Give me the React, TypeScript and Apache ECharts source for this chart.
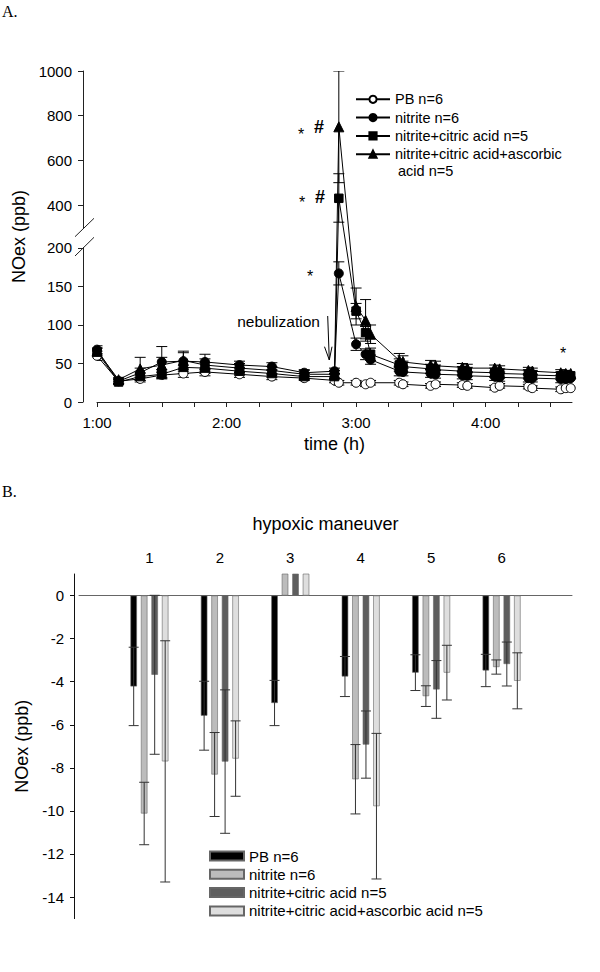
import React, { useEffect, useRef } from 'react';
import * as echarts from 'echarts';

const FONT = 'Liberation Sans, Arial, Helvetica, sans-serif';

// ---------- Panel A data (time in minutes, NOex in ppb) ----------
const timeMin = [60, 70, 80, 90, 100, 110, 126, 141, 156, 170, 172, 180, 184.4, 186.7, 200, 201.7, 214.5, 216.8, 229.2, 231.5, 244.2, 246.5, 259.8, 261.6, 274.8, 277.1, 279.4];

const pbValues = [60, 27, 30, 35, 37, 39, 36, 33, 31, 28, 25, 25, 23, 25, 25, 23, 21, 23, 22, 21, 18.6, 21, 20, 18, 16.5, 18, 18];
const pbErr = [6, 3, 4, 4, 5, 5, 4, 4, 3, 3, 3, 3, 3, 3, 3, 3, 3, 3, 3, 3, 3, 3, 3, 3, 3, 3, 3];

const nitriteValues = [68, 27, 38, 52, 53, 52, 48, 46, 38, 40, 167, 75, 62, 55, 40, 39, 37, 36, 35, 34, 33, 32, 31, 31, 30, 30, 31];
const nitriteErr = [5, 3, 6, 20, 13, 10, 5, 5, 4, 4, 15, 8, 7, 6, 6, 5, 5, 5, 5, 5, 5, 5, 5, 5, 5, 5, 5];

const citricValues = [65, 26, 33, 36, 45, 44, 40, 37, 33, 33, 430, 118, 90, 62, 48, 46, 43, 42, 40, 39, 38, 37, 36, 35, 34, 33, 34];
const citricErr = [5, 3, 5, 6, 8, 7, 5, 5, 4, 4, 110, 10, 8, 8, 8, 7, 6, 6, 6, 6, 6, 6, 6, 6, 5, 5, 5];

const ascorbicValues = [66, 29, 43, 48, 54, 48, 44, 41, 36, 36, 750, 124, 106, 88, 54, 52, 48, 47, 45, 44, 44, 43, 41, 40, 38, 37, 37];
const ascorbicErr = [4, 3, 15, 10, 10, 8, 6, 5, 5, 5, 250, 24, 27, 12, 9, 8, 6, 6, 5, 5, 4, 4, 4, 4, 4, 4, 4];

const namesA = ['PB n=6', 'nitrite n=6', 'nitrite+citric acid n=5', 'nitrite+citric acid+ascorbic acid n=5'];
const yTicksA = [0, 50, 100, 150, 200, 400, 600, 800, 1000];
const xTicksA = [60, 75, 90, 105, 120, 135, 150, 165, 180, 195, 210, 225, 240, 255, 270];
const xLabelsA = [60, 120, 180, 240];

// ---------- Panel B data ----------
const maneuvers = ['1', '2', '3', '4', '5', '6'];
const pbBar = [-4.22, -5.58, -4.99, -3.76, -3.58, -3.48];
const pbBarErr = [1.82, 1.6, 1.05, 0.93, 0.83, 0.75];
const nitriteBar = [-10.12, -8.31, 2.5, -8.53, -4.67, -3.32];
const nitriteBarErr = [1.45, 1.95, null, 1.61, 0.48, 0.33];
const citricBar = [-3.68, -7.71, 2.5, -6.92, -4.36, -3.18];
const citricBarErr = [3.69, 3.33, null, 1.56, 1.34, 1.02];
const ascorbicBar = [-7.7, -7.57, 2.5, -9.78, -3.58, -3.96];
const ascorbicBarErr = [5.6, 1.75, null, 3.38, 1.27, 1.3];
const namesB = ['PB n=6', 'nitrite n=6', 'nitrite+citric acid n=5', 'nitrite+citric acid+ascorbic acid n=5'];
const yTicksB = [0, -2, -4, -6, -8, -10, -12, -14];

// ---------- broken-axis mapping for panel A ----------
const BREAK_LO = 200;
const BREAK_HI = 400;
const GAP_D = 55.8;
const UPPER_K = 0.29;
function toD(v: number): number {
  if (v <= BREAK_LO) return v;
  if (v >= BREAK_HI) return BREAK_LO + GAP_D + (v - BREAK_HI) * UPPER_K;
  return BREAK_LO + ((v - BREAK_LO) / (BREAK_HI - BREAK_LO)) * GAP_D;
}
function fromD(d: number): number {
  if (d <= BREAK_LO) return d;
  if (d >= BREAK_LO + GAP_D) return BREAK_HI + (d - BREAK_LO - GAP_D) / UPPER_K;
  return BREAK_LO + ((d - BREAK_LO) / GAP_D) * (BREAK_HI - BREAK_LO);
}

const BAR_W = 6.5;
const BAR_GAP = 0.615;

export default function App() {
  const ref = useRef<HTMLDivElement>(null);

  useEffect(() => {
    document.body.style.margin = '0';
    if (!ref.current) return;
    const chart = echarts.init(ref.current, undefined, { renderer: 'svg' });

    const lineDefs = [
      { name: namesA[0], v: pbValues, e: pbErr, symbol: 'circle', size: 9, fill: '#ffffff' },
      { name: namesA[1], v: nitriteValues, e: nitriteErr, symbol: 'circle', size: 9, fill: '#000000' },
      { name: namesA[2], v: citricValues, e: citricErr, symbol: 'rect', size: 8.5, fill: '#000000' },
      { name: namesA[3], v: ascorbicValues, e: ascorbicErr, symbol: 'triangle', size: 10, fill: '#000000' },
    ];

    const errRenderTop = (params: any, api: any) => {
      const x = api.value(0);
      const p1 = api.coord([x, api.value(1)]);
      const p2 = api.coord([x, api.value(2)]);
      const w = 5.5;
      const st = { stroke: '#000', lineWidth: 1 };
      return {
        type: 'group',
        children: [
          { type: 'line', shape: { x1: p1[0], y1: p1[1], x2: p2[0], y2: p2[1] }, style: st },
          { type: 'line', shape: { x1: p1[0] - w, y1: p1[1], x2: p1[0] + w, y2: p1[1] }, style: st },
          { type: 'line', shape: { x1: p2[0] - w, y1: p2[1], x2: p2[0] + w, y2: p2[1] }, style: st },
        ],
      };
    };

    const seriesA: any[] = [];
    lineDefs.forEach((d) => {
      seriesA.push({
        type: 'custom',
        xAxisIndex: 0,
        yAxisIndex: 0,
        z: 2,
        clip: true,
        silent: true,
        encode: { x: 0, y: [1, 2] },
        data: timeMin.map((t, i) => [t, toD(d.v[i] + d.e[i]), toD(Math.max(0, d.v[i] - d.e[i]))]),
        renderItem: errRenderTop,
      });
    });
    lineDefs.forEach((d) => {
      seriesA.push({
        type: 'line',
        name: d.name,
        xAxisIndex: 0,
        yAxisIndex: 0,
        z: 3,
        data: timeMin.map((t, i) => [t, toD(d.v[i])]),
        symbol: d.symbol,
        symbolSize: d.size,
        showAllSymbol: true,
        lineStyle: { color: '#000', width: 1 },
        itemStyle: { color: d.fill, borderColor: '#000', borderWidth: 1 },
      });
    });

    const barDefs = [
      { name: 'bar:' + namesB[0], v: pbBar, e: pbBarErr, color: '#000000' },
      { name: 'bar:' + namesB[1], v: nitriteBar, e: nitriteBarErr, color: '#bcbcbc' },
      { name: 'bar:' + namesB[2], v: citricBar, e: citricBarErr, color: '#5e5e5e' },
      { name: 'bar:' + namesB[3], v: ascorbicBar, e: ascorbicBarErr, color: '#dedede' },
    ];
    const pitch = BAR_W * (1 + BAR_GAP);

    const seriesB: any[] = [];
    barDefs.forEach((d) => {
      seriesB.push({
        type: 'bar',
        name: d.name,
        xAxisIndex: 1,
        yAxisIndex: 1,
        barWidth: BAR_W,
        barGap: BAR_GAP * 100 + '%',
        clip: true,
        data: [null, ...d.v, null],
        itemStyle: { color: d.color, borderColor: '#666', borderWidth: 0.6 },
      });
    });
    barDefs.forEach((d, k) => {
      const offset = (k - 1.5) * pitch;
      const items: any[] = [];
      d.v.forEach((v, i) => {
        const e = d.e[i];
        if (e != null) items.push([i + 1, v + e, v - e]);
      });
      seriesB.push({
        type: 'custom',
        xAxisIndex: 1,
        yAxisIndex: 1,
        z: 4,
        clip: true,
        silent: true,
        encode: { x: 0, y: [1, 2] },
        data: items,
        renderItem: (params: any, api: any) => {
          const x = api.value(0);
          const p1 = api.coord([x, api.value(1)]);
          const p2 = api.coord([x, api.value(2)]);
          const cx = p1[0] + offset;
          const w = 5;
          const st = { stroke: '#333', lineWidth: 1 };
          return {
            type: 'group',
            children: [
              { type: 'line', shape: { x1: cx, y1: p1[1], x2: cx, y2: p2[1] }, style: st },
              { type: 'line', shape: { x1: cx - w, y1: p1[1], x2: cx + w, y2: p1[1] }, style: st },
              { type: 'line', shape: { x1: cx - w, y1: p2[1], x2: cx + w, y2: p2[1] }, style: st },
            ],
          };
        },
      });
    });

    const txt = (text: string, x: number, y: number, size: number, opts: any = {}) => ({
      type: 'text',
      x,
      y,
      z: 110,
      silent: true,
      style: {
        text,
        fill: '#000',
        fontSize: size,
        fontFamily: opts.family || FONT,
        fontWeight: opts.weight || 'normal',
        align: opts.align || 'center',
        verticalAlign: 'middle',
        textAlign: opts.align || 'center',
        textVerticalAlign: 'middle',
      },
    });

    const option: any = {
      animation: false,
      backgroundColor: '#ffffff',
      textStyle: { fontFamily: FONT },
      grid: [
        { left: 97, right: 28, top: 71, height: 331 },
        { left: 79, right: 28, top: 574, height: 344.6 },
      ],
      xAxis: [
        {
          type: 'value',
          gridIndex: 0,
          min: 60,
          max: 280,
          name: 'time (h)',
          nameLocation: 'middle',
          nameGap: 33,
          nameTextStyle: { fontSize: 18, color: '#000', fontFamily: FONT },
          axisLine: { show: true, onZero: false, lineStyle: { color: '#222', width: 1 } },
          axisTick: { show: true, length: 5, customValues: xTicksA, lineStyle: { color: '#222' } },
          axisLabel: {
            customValues: xLabelsA,
            margin: 13,
            fontSize: 15,
            color: '#000',
            fontFamily: FONT,
            formatter: (v: number) => Math.floor(v / 60) + ':00',
          },
          splitLine: { show: false },
        },
        {
          type: 'category',
          gridIndex: 1,
          position: 'top',
          boundaryGap: false,
          data: ['', ...maneuvers, ''],
          name: 'hypoxic maneuver',
          nameLocation: 'middle',
          nameGap: 41,
          nameTextStyle: { fontSize: 18, color: '#000', fontFamily: FONT },
          axisLine: { show: true, onZero: true, lineStyle: { color: '#666', width: 1 } },
          axisTick: { show: false },
          axisLabel: { interval: 0, margin: 9, fontSize: 15, color: '#000', fontFamily: FONT },
          splitLine: { show: false },
        },
      ],
      yAxis: [
        {
          type: 'value',
          gridIndex: 0,
          min: 0,
          max: toD(1000),
          offset: 14,
          name: 'NOex (ppb)',
          nameLocation: 'middle',
          nameGap: 54,
          nameTextStyle: { fontSize: 18, color: '#000', fontFamily: FONT },
          axisLine: { show: true, onZero: false, lineStyle: { color: '#222', width: 1 } },
          axisTick: { show: true, length: 5, customValues: yTicksA.map(toD), lineStyle: { color: '#222' } },
          axisLabel: {
            customValues: yTicksA.map(toD),
            margin: 11,
            fontSize: 15,
            color: '#000',
            fontFamily: FONT,
            formatter: (v: number) => String(Math.round(fromD(v))),
          },
          splitLine: { show: false },
        },
        {
          type: 'value',
          gridIndex: 1,
          min: -15,
          max: 1,
          offset: 5,
          name: 'NOex (ppb)',
          nameLocation: 'middle',
          nameGap: 40,
          nameTextStyle: { fontSize: 18, color: '#000', fontFamily: FONT },
          axisLine: { show: true, onZero: false, lineStyle: { color: '#111', width: 1 } },
          axisTick: { show: true, length: 4, customValues: yTicksB, lineStyle: { color: '#111' } },
          axisLabel: { customValues: yTicksB, margin: 10, fontSize: 15, color: '#000', fontFamily: FONT },
          splitLine: { show: false },
        },
      ],
      legend: [
        {
          orient: 'vertical',
          left: 355,
          top: 91.3,
          padding: 0,
          itemWidth: 34,
          itemHeight: 9,
          itemGap: 2.3,
          data: namesA,
          formatter: (n: string) => (n === namesA[3] ? n.replace(' acid n=5', '') : n),
          textStyle: { fontSize: 14.5, lineHeight: 16, color: '#000', fontFamily: FONT },
        },
        {
          orient: 'vertical',
          left: 209,
          top: 848,
          padding: 0,
          itemWidth: 34,
          itemHeight: 9,
          itemGap: 2.3,
          icon: 'rect',
          data: barDefs.map((d) => d.name),
          formatter: (n: string) => n.replace('bar:', ''),
          textStyle: { fontSize: 15, lineHeight: 16, color: '#000', fontFamily: FONT },
        },
      ],
      graphic: [
        txt('A.', 2, 11, 16, { align: 'left', family: 'Liberation Serif, Times New Roman, serif' }),
        txt('B.', 2, 491, 16, { align: 'left', family: 'Liberation Serif, Times New Roman, serif' }),
        txt(' acid n=5', 394, 171, 14.5, { align: 'left' }),
        // axis break
        { type: 'rect', z: 100, silent: true, shape: { x: 80, y: 229, width: 6, height: 18 }, style: { fill: '#fff' } },
        { type: 'line', z: 101, silent: true, shape: { x1: 75, y1: 236.7, x2: 94, y2: 218.3 }, style: { stroke: '#222', lineWidth: 1 } },
        { type: 'line', z: 101, silent: true, shape: { x1: 75, y1: 256, x2: 94, y2: 237.3 }, style: { stroke: '#222', lineWidth: 1 } },
        // significance marks
        txt('*', 301, 134, 16),
        txt('#', 319, 127, 18, { weight: 'bold' }),
        txt('*', 302, 202, 16),
        txt('#', 320, 197, 18, { weight: 'bold' }),
        txt('*', 310, 276, 16),
        txt('*', 563, 353, 16),
        // nebulization arrow
        txt('nebulization', 278.5, 321, 15.5),
        { type: 'polyline', z: 101, silent: true, shape: { points: [[327.7, 316], [329.3, 360]] }, style: { stroke: '#000', lineWidth: 1, fill: 'none' } },
        { type: 'polyline', z: 101, silent: true, shape: { points: [[324.5, 346.7], [329.3, 360], [332, 346.7]] }, style: { stroke: '#000', lineWidth: 1, fill: 'none' } },
      ],
      series: [...seriesA, ...seriesB],
    };

    chart.setOption(option);
    return () => {
      chart.dispose();
    };
  }, []);

  return (
    <div
      ref={ref}
      style={{ position: 'absolute', left: 0, top: 0, width: 600, height: 972, background: '#fff' }}
    />
  );
}
